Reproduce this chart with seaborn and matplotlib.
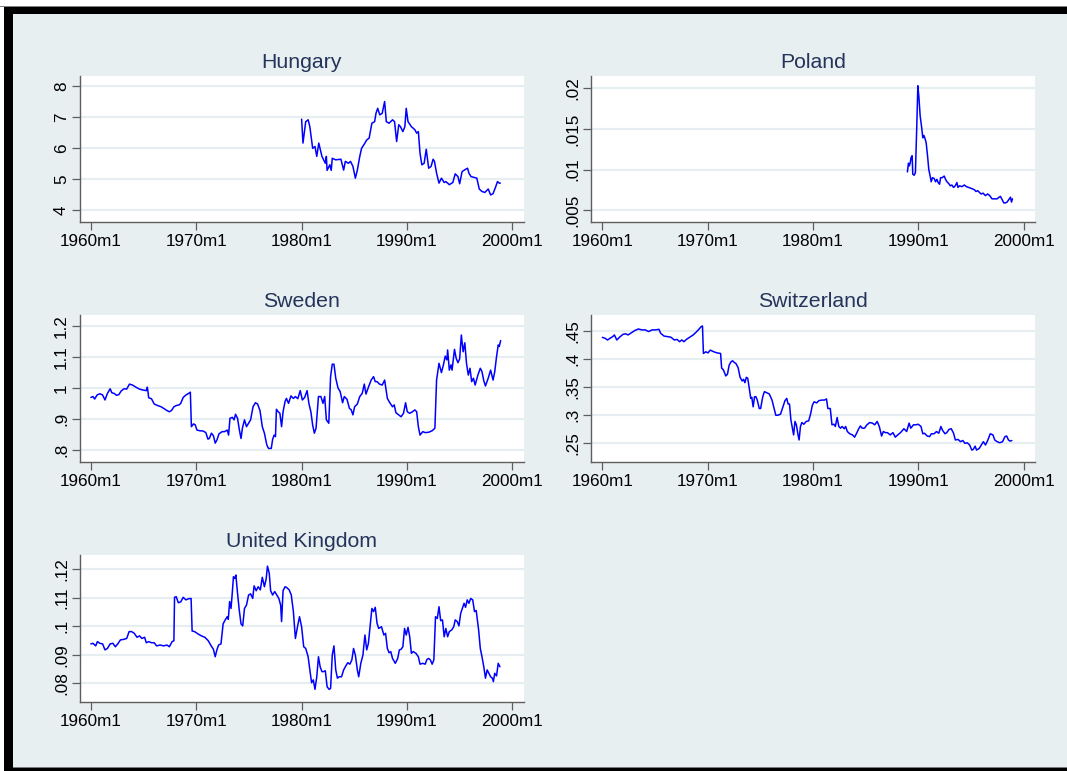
import matplotlib
matplotlib.use("Agg")
import matplotlib.pyplot as plt
from matplotlib.patches import Rectangle
import pandas as pd
import seaborn as sns

# ---- monthly exchange-rate series (dates as decimal years) ----
hungary_t = [1980.00, 1980.13, 1980.39, 1980.62, 1980.78, 1981.05, 1981.27, 1981.44, 1981.63, 1981.93,
             1982.25, 1982.35, 1982.42, 1982.68, 1982.81, 1982.91, 1983.24, 1983.73, 1983.99, 1984.15,
             1984.44, 1984.64, 1984.87, 1985.10, 1985.29, 1985.52, 1985.69, 1986.01, 1986.18, 1986.41,
             1986.67, 1986.93, 1987.06, 1987.22, 1987.42, 1987.65, 1987.88, 1988.04, 1988.30, 1988.63,
             1988.82, 1989.02, 1989.22, 1989.38, 1989.61, 1989.80, 1989.93, 1990.10, 1990.42, 1990.75,
             1990.92, 1991.08, 1991.24, 1991.41, 1991.63, 1991.83, 1992.06, 1992.29, 1992.48, 1992.61,
             1992.81, 1993.04, 1993.27, 1993.53, 1993.69, 1994.02, 1994.35, 1994.58, 1994.84, 1995.00,
             1995.23, 1995.49, 1995.75, 1995.88, 1996.08, 1996.31, 1996.63, 1996.86, 1997.12, 1997.39,
             1997.71, 1997.94, 1998.17, 1998.43, 1998.59, 1998.76, 1998.86]
hungary_v = [6.94, 6.17, 6.86, 6.92, 6.70, 6.00, 6.06, 5.74, 6.17, 5.74,
             5.52, 5.74, 5.29, 5.47, 5.29, 5.68, 5.63, 5.65, 5.30, 5.58,
             5.52, 5.58, 5.42, 5.04, 5.30, 5.74, 6.00, 6.17, 6.27, 6.33,
             6.81, 6.86, 7.13, 7.29, 7.08, 7.13, 7.51, 6.86, 6.81, 6.92,
             6.86, 6.22, 6.76, 6.70, 6.54, 6.70, 7.29, 6.86, 6.70, 6.60,
             6.49, 6.54, 5.84, 5.47, 5.52, 5.97, 5.36, 5.42, 5.65, 5.58,
             5.20, 4.88, 5.04, 4.90, 4.93, 4.83, 4.90, 5.18, 5.09, 4.86,
             5.25, 5.31, 5.36, 5.20, 5.09, 5.07, 5.04, 4.69, 4.61, 4.58,
             4.69, 4.50, 4.54, 4.77, 4.93, 4.88, 4.88]

poland_t = [1988.95, 1989.05, 1989.13, 1989.21, 1989.30, 1989.40, 1989.46, 1989.59, 1989.71, 1989.84,
            1989.94, 1990.03, 1990.16, 1990.32, 1990.41, 1990.51, 1990.60, 1990.73, 1990.86, 1990.98,
            1991.11, 1991.21, 1991.33, 1991.49, 1991.62, 1991.75, 1991.87, 1992.00, 1992.10, 1992.25,
            1992.44, 1992.57, 1992.70, 1992.86, 1993.02, 1993.17, 1993.33, 1993.49, 1993.65, 1993.75,
            1993.90, 1994.13, 1994.35, 1994.54, 1994.76, 1994.98, 1995.17, 1995.33, 1995.46, 1995.62,
            1995.78, 1995.94, 1996.13, 1996.35, 1996.57, 1996.76, 1996.98, 1997.21, 1997.46, 1997.65,
            1997.78, 1997.94, 1998.10, 1998.25, 1998.41, 1998.57, 1998.73, 1998.83, 1998.92]
poland_v = [0.00971, 0.01078, 0.01045, 0.01078, 0.01148, 0.01170, 0.00943, 0.00930, 0.00963, 0.01537,
            0.02030, 0.01910, 0.01660, 0.01500, 0.01390, 0.01420, 0.01390, 0.01330, 0.01170, 0.01000,
            0.00920, 0.00850, 0.00900, 0.00890, 0.00850, 0.00880, 0.00840, 0.00820, 0.00900, 0.00900,
            0.00920, 0.00880, 0.00850, 0.00830, 0.00800, 0.00810, 0.00780, 0.00800, 0.00840, 0.00780,
            0.00800, 0.00790, 0.00810, 0.00790, 0.00780, 0.00770, 0.00760, 0.00750, 0.00730, 0.00740,
            0.00720, 0.00700, 0.00710, 0.00680, 0.00700, 0.00680, 0.00640, 0.00640, 0.00640, 0.00660,
            0.00670, 0.00630, 0.00590, 0.00590, 0.00600, 0.00630, 0.00660, 0.00600, 0.00640]

sweden_t = [1960.00, 1960.20, 1960.36, 1960.59, 1960.85, 1961.11, 1961.34, 1961.57, 1961.83, 1961.99,
            1962.22, 1962.42, 1962.65, 1962.88, 1963.14, 1963.40, 1963.66, 1963.95, 1964.28, 1964.61,
            1964.93, 1965.26, 1965.36, 1965.49, 1965.75, 1966.01, 1966.34, 1966.67, 1966.90, 1967.22,
            1967.45, 1967.65, 1967.88, 1968.10, 1968.37, 1968.53, 1968.76, 1969.02, 1969.28, 1969.44,
            1969.54, 1969.74, 1969.90, 1970.07, 1970.33, 1970.65, 1970.91, 1971.11, 1971.24, 1971.44,
            1971.63, 1971.80, 1971.96, 1972.16, 1972.45, 1972.68, 1972.94, 1973.07, 1973.20, 1973.43,
            1973.59, 1973.73, 1973.92, 1974.08, 1974.25, 1974.38, 1974.58, 1974.77, 1974.97, 1975.16,
            1975.39, 1975.62, 1975.82, 1976.05, 1976.27, 1976.47, 1976.70, 1976.86, 1977.12, 1977.25,
            1977.39, 1977.52, 1977.61, 1977.78, 1977.94, 1978.10, 1978.24, 1978.43, 1978.56, 1978.76,
            1978.99, 1979.22, 1979.41, 1979.64, 1979.87, 1980.07, 1980.29, 1980.52, 1980.69, 1980.88,
            1981.05, 1981.21, 1981.37, 1981.60, 1981.83, 1982.03, 1982.19, 1982.35, 1982.58, 1982.75,
            1982.91, 1983.07, 1983.24, 1983.46, 1983.66, 1983.89, 1984.05, 1984.31, 1984.54, 1984.71,
            1984.87, 1985.03, 1985.29, 1985.52, 1985.75, 1985.95, 1986.11, 1986.34, 1986.60, 1986.83,
            1986.99, 1987.16, 1987.39, 1987.65, 1987.88, 1988.14, 1988.37, 1988.63, 1988.79, 1988.95,
            1989.22, 1989.44, 1989.67, 1989.87, 1990.03, 1990.26, 1990.52, 1990.75, 1990.92, 1991.08,
            1991.24, 1991.50, 1991.73, 1992.06, 1992.39, 1992.65, 1992.81, 1993.04, 1993.27, 1993.46,
            1993.63, 1993.79, 1993.86, 1994.02, 1994.18, 1994.28, 1994.51, 1994.67, 1994.84, 1995.00,
            1995.16, 1995.33, 1995.49, 1995.65, 1995.82, 1995.98, 1996.14, 1996.31, 1996.47, 1996.73,
            1996.96, 1997.12, 1997.29, 1997.45, 1997.71, 1997.94, 1998.17, 1998.33, 1998.50, 1998.66,
            1998.76, 1998.89]
sweden_v = [0.970, 0.973, 0.965, 0.978, 0.982, 0.978, 0.962, 0.983, 0.998, 0.985,
            0.983, 0.977, 0.979, 0.991, 0.998, 0.997, 1.013, 1.010, 1.003, 0.997,
            0.994, 0.992, 1.003, 0.969, 0.966, 0.949, 0.944, 0.940, 0.935, 0.928,
            0.924, 0.928, 0.940, 0.944, 0.946, 0.951, 0.970, 0.978, 0.983, 0.987,
            0.876, 0.885, 0.882, 0.865, 0.863, 0.862, 0.857, 0.836, 0.838, 0.855,
            0.847, 0.823, 0.833, 0.853, 0.860, 0.860, 0.865, 0.849, 0.903, 0.906,
            0.898, 0.916, 0.903, 0.868, 0.838, 0.871, 0.898, 0.876, 0.887, 0.898,
            0.940, 0.953, 0.949, 0.928, 0.876, 0.855, 0.817, 0.806, 0.806, 0.835,
            0.849, 0.844, 0.932, 0.924, 0.919, 0.876, 0.924, 0.957, 0.967, 0.951,
            0.975, 0.967, 0.973, 0.966, 0.992, 0.962, 0.970, 0.992, 0.951, 0.924,
            0.881, 0.855, 0.871, 0.973, 0.973, 0.951, 0.973, 0.898, 0.887, 1.037,
            1.077, 1.077, 1.032, 1.000, 0.989, 0.953, 0.973, 0.964, 0.935, 0.930,
            0.914, 0.940, 0.949, 0.973, 0.983, 1.013, 0.981, 1.003, 1.026, 1.037,
            1.021, 1.021, 1.013, 1.010, 1.026, 0.967, 0.953, 0.940, 0.946, 0.921,
            0.914, 0.908, 0.919, 0.953, 0.924, 0.919, 0.924, 0.930, 0.924, 0.876,
            0.849, 0.860, 0.857, 0.858, 0.863, 0.871, 1.026, 1.080, 1.050, 1.075,
            1.103, 1.091, 1.123, 1.058, 1.075, 1.058, 1.125, 1.096, 1.082, 1.094,
            1.171, 1.117, 1.146, 1.080, 1.042, 1.064, 1.021, 1.032, 1.010, 1.042,
            1.064, 1.053, 1.024, 1.007, 1.032, 1.058, 1.026, 1.053, 1.101, 1.139,
            1.134, 1.153]

swiss_t = [1960.00, 1960.26, 1960.49, 1960.72, 1960.98, 1961.14, 1961.37, 1961.63, 1961.95, 1962.21,
           1962.44, 1962.76, 1963.09, 1963.41, 1963.74, 1964.07, 1964.39, 1964.72, 1965.04, 1965.37,
           1965.53, 1965.85, 1966.18, 1966.50, 1966.83, 1967.09, 1967.32, 1967.54, 1967.74, 1967.97,
           1968.29, 1968.62, 1968.85, 1969.11, 1969.37, 1969.50, 1969.59, 1969.82, 1970.02, 1970.24,
           1970.57, 1970.89, 1971.22, 1971.32, 1971.48, 1971.71, 1971.87, 1972.03, 1972.20, 1972.36,
           1972.52, 1972.68, 1972.88, 1973.07, 1973.27, 1973.40, 1973.53, 1973.66, 1973.79, 1973.92,
           1974.08, 1974.18, 1974.31, 1974.44, 1974.57, 1974.70, 1974.89, 1975.02, 1975.22, 1975.38,
           1975.61, 1975.84, 1976.10, 1976.26, 1976.46, 1976.65, 1976.91, 1977.14, 1977.33, 1977.50,
           1977.63, 1977.76, 1977.89, 1978.05, 1978.15, 1978.28, 1978.41, 1978.57, 1978.67, 1978.80,
           1978.93, 1979.12, 1979.35, 1979.58, 1979.77, 1979.93, 1980.10, 1980.33, 1980.55, 1980.81,
           1981.07, 1981.27, 1981.40, 1981.63, 1981.79, 1981.98, 1982.11, 1982.28, 1982.44, 1982.60,
           1982.76, 1982.96, 1983.09, 1983.25, 1983.48, 1983.74, 1983.94, 1984.13, 1984.33, 1984.49,
           1984.65, 1984.88, 1985.11, 1985.37, 1985.63, 1985.85, 1986.08, 1986.28, 1986.50, 1986.67,
           1986.86, 1987.06, 1987.32, 1987.58, 1987.80, 1988.03, 1988.29, 1988.62, 1988.88, 1989.11,
           1989.27, 1989.53, 1989.76, 1989.98, 1990.24, 1990.41, 1990.57, 1990.83, 1991.06, 1991.22,
           1991.48, 1991.71, 1991.93, 1992.13, 1992.29, 1992.52, 1992.68, 1992.91, 1993.11, 1993.33,
           1993.50, 1993.76, 1993.98, 1994.21, 1994.41, 1994.63, 1994.86, 1995.06, 1995.19, 1995.38,
           1995.51, 1995.77, 1996.03, 1996.16, 1996.36, 1996.59, 1996.81, 1997.07, 1997.24, 1997.46,
           1997.72, 1997.98, 1998.21, 1998.37, 1998.54, 1998.70, 1998.86]
swiss_v = [0.4387, 0.437, 0.434, 0.437, 0.440, 0.443, 0.434, 0.439, 0.444, 0.445,
           0.443, 0.447, 0.451, 0.4536, 0.452, 0.452, 0.449, 0.452, 0.452, 0.453,
           0.446, 0.441, 0.440, 0.439, 0.434, 0.435, 0.431, 0.434, 0.431, 0.435,
           0.439, 0.443, 0.447, 0.452, 0.4577, 0.459, 0.410, 0.413, 0.411, 0.416,
           0.413, 0.411, 0.410, 0.384, 0.381, 0.370, 0.373, 0.389, 0.395, 0.397,
           0.394, 0.392, 0.385, 0.3675, 0.361, 0.364, 0.358, 0.3675, 0.366, 0.351,
           0.330, 0.332, 0.315, 0.333, 0.333, 0.327, 0.312, 0.312, 0.333, 0.342,
           0.340, 0.338, 0.327, 0.315, 0.300, 0.300, 0.302, 0.315, 0.326, 0.330,
           0.320, 0.320, 0.292, 0.275, 0.265, 0.289, 0.283, 0.265, 0.256, 0.280,
           0.287, 0.284, 0.289, 0.290, 0.303, 0.318, 0.324, 0.322, 0.326, 0.327,
           0.327, 0.329, 0.312, 0.312, 0.283, 0.284, 0.280, 0.296, 0.280, 0.277,
           0.280, 0.276, 0.280, 0.271, 0.267, 0.265, 0.261, 0.268, 0.276, 0.281,
           0.277, 0.277, 0.283, 0.287, 0.286, 0.283, 0.289, 0.280, 0.263, 0.271,
           0.269, 0.269, 0.265, 0.269, 0.261, 0.265, 0.269, 0.276, 0.271, 0.286,
           0.277, 0.283, 0.283, 0.284, 0.280, 0.267, 0.268, 0.263, 0.262, 0.267,
           0.267, 0.271, 0.268, 0.280, 0.273, 0.267, 0.269, 0.275, 0.276, 0.268,
           0.256, 0.257, 0.253, 0.255, 0.250, 0.251, 0.247, 0.238, 0.239, 0.245,
           0.238, 0.241, 0.249, 0.253, 0.247, 0.256, 0.267, 0.265, 0.256, 0.253,
           0.251, 0.253, 0.262, 0.263, 0.256, 0.254, 0.255]

uk_t = [1960.00, 1960.20, 1960.46, 1960.62, 1960.85, 1961.11, 1961.34, 1961.57, 1961.83, 1962.09,
        1962.32, 1962.55, 1962.81, 1963.14, 1963.40, 1963.63, 1963.86, 1964.12, 1964.38, 1964.61,
        1964.84, 1965.10, 1965.26, 1965.49, 1965.75, 1966.01, 1966.24, 1966.57, 1966.90, 1967.22,
        1967.45, 1967.71, 1967.88, 1967.94, 1968.10, 1968.30, 1968.53, 1968.76, 1969.02, 1969.28,
        1969.51, 1969.61, 1969.84, 1970.16, 1970.49, 1970.82, 1971.14, 1971.37, 1971.63, 1971.80,
        1971.96, 1972.12, 1972.35, 1972.55, 1972.75, 1972.94, 1973.04, 1973.17, 1973.30, 1973.43,
        1973.53, 1973.66, 1973.76, 1973.92, 1974.08, 1974.25, 1974.41, 1974.58, 1974.77, 1974.97,
        1975.16, 1975.36, 1975.49, 1975.69, 1975.88, 1976.08, 1976.27, 1976.47, 1976.63, 1976.76,
        1976.93, 1977.06, 1977.25, 1977.45, 1977.65, 1977.84, 1978.01, 1978.10, 1978.24, 1978.43,
        1978.59, 1978.82, 1979.02, 1979.22, 1979.41, 1979.61, 1979.80, 1980.00, 1980.20, 1980.39,
        1980.62, 1980.78, 1980.95, 1981.11, 1981.27, 1981.44, 1981.60, 1981.76, 1981.93, 1982.09,
        1982.25, 1982.42, 1982.61, 1982.75, 1982.91, 1983.07, 1983.24, 1983.40, 1983.56, 1983.79,
        1983.99, 1984.15, 1984.38, 1984.58, 1984.77, 1984.93, 1985.10, 1985.29, 1985.42, 1985.62,
        1985.82, 1986.01, 1986.18, 1986.34, 1986.50, 1986.67, 1986.83, 1986.99, 1987.16, 1987.32,
        1987.58, 1987.81, 1987.97, 1988.14, 1988.30, 1988.46, 1988.63, 1988.89, 1989.12, 1989.28,
        1989.44, 1989.61, 1989.77, 1989.93, 1990.10, 1990.26, 1990.42, 1990.59, 1990.85, 1991.08,
        1991.24, 1991.50, 1991.73, 1991.90, 1992.06, 1992.22, 1992.39, 1992.55, 1992.71, 1992.88,
        1993.04, 1993.20, 1993.37, 1993.53, 1993.69, 1993.86, 1994.02, 1994.25, 1994.44, 1994.58,
        1994.77, 1994.93, 1995.10, 1995.26, 1995.42, 1995.56, 1995.72, 1995.88, 1996.05, 1996.24,
        1996.41, 1996.57, 1996.80, 1996.96, 1997.12, 1997.29, 1997.45, 1997.61, 1997.78, 1997.94,
        1998.10, 1998.20, 1998.33, 1998.50, 1998.66, 1998.82]
uk_v = [0.0938, 0.0940, 0.0931, 0.0946, 0.0940, 0.0938, 0.0917, 0.0922, 0.0938, 0.0940,
        0.0928, 0.0938, 0.0952, 0.0954, 0.0957, 0.0981, 0.0981, 0.0975, 0.0961, 0.0966,
        0.0957, 0.0961, 0.0942, 0.0946, 0.0942, 0.0942, 0.0931, 0.0934, 0.0931, 0.0934,
        0.0928, 0.0946, 0.0949, 0.1101, 0.1103, 0.1082, 0.1085, 0.1101, 0.1092, 0.1096,
        0.1097, 0.0983, 0.0981, 0.0973, 0.0966, 0.0961, 0.0949, 0.0934, 0.0919, 0.0893,
        0.0917, 0.0934, 0.0938, 0.1008, 0.1022, 0.1033, 0.1024, 0.1086, 0.1062, 0.1121,
        0.1173, 0.1167, 0.1179, 0.1115, 0.1057, 0.1008, 0.1001, 0.1062, 0.1074, 0.1109,
        0.1113, 0.1097, 0.1141, 0.1124, 0.1138, 0.1127, 0.1171, 0.1138, 0.1164, 0.1210,
        0.1185, 0.1124, 0.1109, 0.1121, 0.1109, 0.1097, 0.1074, 0.1016, 0.1124, 0.1138,
        0.1135, 0.1127, 0.1109, 0.1051, 0.0957, 0.0998, 0.1033, 0.0998, 0.0928, 0.0922,
        0.0893, 0.0847, 0.0802, 0.0812, 0.0779, 0.0823, 0.0893, 0.0858, 0.0841, 0.0841,
        0.0844, 0.0788, 0.0779, 0.0782, 0.0899, 0.0931, 0.0847, 0.0818, 0.0823, 0.0823,
        0.0847, 0.0858, 0.0872, 0.0867, 0.0882, 0.0922, 0.0899, 0.0847, 0.0823, 0.0870,
        0.0899, 0.0969, 0.0917, 0.0940, 0.0998, 0.1062, 0.1051, 0.1066, 0.1010, 0.0992,
        0.0998, 0.0969, 0.0975, 0.0922, 0.0907, 0.0911, 0.0887, 0.0870, 0.0887, 0.0917,
        0.0919, 0.0928, 0.0992, 0.0969, 0.0996, 0.0963, 0.0905, 0.0911, 0.0905, 0.0893,
        0.0867, 0.0870, 0.0867, 0.0884, 0.0887, 0.0882, 0.0867, 0.0882, 0.1033, 0.1027,
        0.1068, 0.1019, 0.1022, 0.0963, 0.0992, 0.0963, 0.0981, 0.0987, 0.0998, 0.1022,
        0.1016, 0.1001, 0.1045, 0.1062, 0.1080, 0.1066, 0.1092, 0.1080, 0.1097, 0.1092,
        0.1051, 0.1055, 0.0987, 0.0922, 0.0893, 0.0858, 0.0818, 0.0847, 0.0835, 0.0823,
        0.0818, 0.0806, 0.0835, 0.0826, 0.0870, 0.0858]

# ---- axis ticks ----
x_ticks = [1960, 1970, 1980, 1990, 2000]
x_labels = ["1960m1", "1970m1", "1980m1", "1990m1", "2000m1"]

hungary_ticks = [4, 5, 6, 7, 8]
hungary_labels = ["4", "5", "6", "7", "8"]
poland_ticks = [0.005, 0.01, 0.015, 0.02]
poland_labels = [".005", ".01", ".015", ".02"]
sweden_ticks = [0.8, 0.9, 1.0, 1.1, 1.2]
sweden_labels = [".8", ".9", "1", "1.1", "1.2"]
swiss_ticks = [0.25, 0.3, 0.35, 0.4, 0.45]
swiss_labels = [".25", ".3", ".35", ".4", ".45"]
uk_ticks = [0.08, 0.09, 0.1, 0.11, 0.12]
uk_labels = [".08", ".09", ".1", ".11", ".12"]

BG = "#E8EFF1"
GRID = "#E6EEF1"
AXIS = "#5E5E5E"
TITLE = "#24345A"
LINE = "#0000FF"

sns.set_theme(style="white")
plt.rcParams["font.family"] = ["Liberation Sans", "DejaVu Sans"]

W, H = 1067, 771
fig = plt.figure(figsize=(W / 100, H / 100), dpi=100, facecolor=BG)

# outer frame: black bands on top, left and bottom
fig.patches.append(Rectangle((0, 1 - 6.5 / H), 1, 6.5 / H, transform=fig.transFigure,
                             facecolor="white", edgecolor="none", zorder=-5))
fig.patches.append(Rectangle((0, 0), 4.3 / W, 1, transform=fig.transFigure,
                             facecolor="white", edgecolor="none", zorder=-5))
fig.patches.append(Rectangle((0, 1 - 6.8 / H), 1, 0.8 / H, transform=fig.transFigure,
                             facecolor="#808080", edgecolor="none", zorder=-4))
fig.patches.append(Rectangle((4.3 / W, 1 - 14.2 / H), 1, 7.4 / H, transform=fig.transFigure,
                             facecolor="black", edgecolor="none", zorder=-3))
fig.patches.append(Rectangle((4.3 / W, 0), 8.4 / W, 1 - 6.8 / H, transform=fig.transFigure,
                             facecolor="black", edgecolor="none", zorder=-3))
fig.patches.append(Rectangle((4.3 / W, 0), 1, 3.4 / H, transform=fig.transFigure,
                             facecolor="black", edgecolor="none", zorder=-3))
fig.patches.append(Rectangle((12.7 / W, 3.4 / H), 1, 1.0 / H, transform=fig.transFigure,
                             facecolor="#7A7A7A", edgecolor="none", zorder=-3))

panels = [
    ("Hungary", hungary_t, hungary_v, hungary_ticks, hungary_labels, (3.637, 8.331), (79.5, 76, 221.7)),
    ("Poland", poland_t, poland_v, poland_ticks, poland_labels, (0.00359, 0.0215), (591.0, 76, 221.7)),
    ("Sweden", sweden_t, sweden_v, sweden_ticks, sweden_labels, (0.7633, 1.2354), (79.5, 315, 461.7)),
    ("Switzerland", swiss_t, swiss_v, swiss_ticks, swiss_labels, (0.2173, 0.4785), (591.0, 315, 461.7)),
    ("United Kingdom", uk_t, uk_v, uk_ticks, uk_labels, (0.07357, 0.1249), (79.5, 555, 701.7)),
]
PW = 444.0

for name, t, v, yt, yl, ylim, (left, top, bottom) in panels:
    ax = fig.add_axes([left / W, 1 - bottom / H, PW / W, (bottom - top) / H])
    ax.set_facecolor("white")
    df = pd.DataFrame({"date": t, "rate": v})
    sns.lineplot(data=df, x="date", y="rate", ax=ax, color=LINE, linewidth=1.1,
                 estimator=None, sort=False)
    ax.set_xlim(1958.92, 2001.06)
    ax.set_ylim(*ylim)
    ax.set_xticks(x_ticks)
    ax.set_xticklabels(x_labels)
    ax.set_yticks(yt)
    ax.set_yticklabels(yl, rotation=90, va="center")
    for y in yt:
        ax.axhline(y, color=GRID, linewidth=1.6, zorder=0)
    ax.set_xlabel("")
    ax.set_ylabel("")
    for side in ("top", "right"):
        ax.spines[side].set_visible(False)
    for side in ("left", "bottom"):
        ax.spines[side].set_color(AXIS)
        ax.spines[side].set_linewidth(1.0)
    ax.tick_params(axis="both", which="major", length=6, width=0.9, color=AXIS,
                   labelsize=12.3, labelcolor="black", left=True, bottom=True)
    ax.tick_params(axis="x", pad=3)
    ax.tick_params(axis="y", pad=1.5)
    ax.set_title(name, fontsize=15.3, color=TITLE, pad=5.5)

fig.savefig("out.png", dpi=100, facecolor=BG)
